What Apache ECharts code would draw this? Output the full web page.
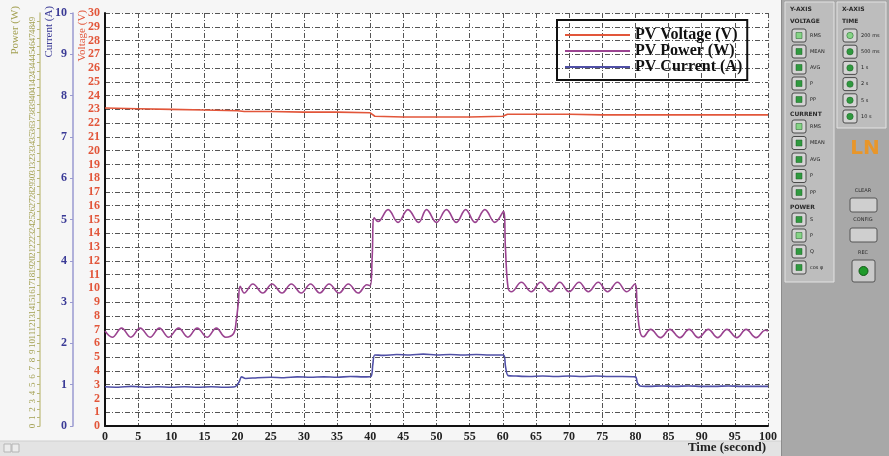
<!DOCTYPE html>
<html>
<head>
<meta charset="utf-8">
<script src="https://cdn.jsdelivr.net/npm/echarts@6/dist/echarts.min.js"></script>
<style>
  html, body { margin: 0; padding: 0; background: #f4f4f4; }
  #chart { width: 889px; height: 456px; }
</style>
</head>
<body>
<div id="chart"></div>
<script>
// PV test record: voltage, power and current against time
const seriesNames = ['PV Voltage (V)', 'PV Power (W)', 'PV Current (A)'];

// [time s, volts]
const voltage = [[0,23.1],[5,23.05],[10,23.0],[15,22.95],[20,22.9],[21,22.85],[25,22.85],[30,22.8],[35,22.8],[40,22.75],[40.7,22.5],[45,22.45],[50,22.45],[55,22.45],[60,22.5],[60.7,22.65],[65,22.65],[70,22.65],[75,22.6],[80,22.6],[85,22.6],[90,22.6],[95,22.6],[100,22.6]];

// [time s, watts]
const power = [
  [0,11.5],[1.1,10.75],[2.5,11.85],[3.9,10.75],[5.3,11.85],[6.8,10.75],[8.2,11.85],[9.6,10.75],[11.1,11.85],[12.5,10.75],[13.9,11.85],[15.4,10.75],[16.8,11.85],[18.2,10.75],[19.4,11.2],[19.8,12.8],[20.1,14.8],[20.4,16.9],
  [21.0,16.1],[22.3,17.2],[23.8,16.1],[25.2,17.2],[26.7,16.1],[28.1,17.2],[29.6,16.1],[31.0,17.2],[32.4,16.1],[33.8,17.2],[35.3,16.1],[36.7,17.2],[38.2,16.1],[39.5,17.1],[40.0,17.0],[40.3,20.5],[40.6,25.2],
  [41.2,24.75],[42.7,26.2],[44.2,24.65],[45.7,26.2],[47.3,24.65],[48.5,26.2],[50.0,24.65],[51.5,26.2],[53.0,24.65],[54.4,26.2],[55.8,24.65],[57.3,26.2],[58.8,24.65],[60.1,26.0],[60.4,21.5],[60.8,16.7],
  [61.3,16.25],[62.8,17.4],[64.3,16.25],[65.7,17.4],[67.2,16.25],[68.6,17.4],[70.0,16.25],[71.5,17.4],[72.9,16.25],[74.4,17.4],[75.8,16.25],[77.3,17.4],[78.7,16.25],[79.9,17.2],[80.3,14.0],[80.7,11.4],
  [81.2,10.8],[82.3,11.7],[83.8,10.7],[85.2,11.7],[86.7,10.7],[88.1,11.7],[89.5,10.7],[91.0,11.7],[92.4,10.7],[93.8,11.7],[95.3,10.7],[96.7,11.7],[98.2,10.7],[99.6,11.6],[100,11.5]
];

// [time s, amperes]
const current = [
  [0,0.95],[2,0.94],[4,0.96],[6,0.94],[8,0.95],[10,0.94],[12,0.95],[14,0.94],[16,0.95],[18,0.94],[19.6,0.95],[20.2,1.06],[20.6,1.19],[21.2,1.15],[23,1.17],[25,1.18],[27,1.17],[29,1.19],[31,1.18],[33,1.19],[35,1.18],[37,1.2],[39,1.19],[40.1,1.2],
  [40.4,1.5],[40.7,1.72],[42,1.71],[44,1.73],[46,1.72],[48,1.74],[50,1.72],[52,1.73],[54,1.72],[56,1.73],[58,1.72],[60.1,1.72],
  [60.4,1.45],[60.8,1.22],[62,1.21],[64,1.2],[66,1.21],[68,1.2],[70,1.21],[72,1.2],[74,1.21],[76,1.2],[78,1.2],[80,1.19],
  [80.3,1.05],[80.7,0.97],[82,0.96],[84,0.97],[86,0.96],[88,0.97],[90,0.96],[92,0.96],[94,0.97],[96,0.96],[98,0.96],[100,0.96]
];

// control panel captions
const voltageButtons = ['RMS', 'MEAN', 'AVG', 'P', 'PP'];
const currentButtons = ['RMS', 'MEAN', 'AVG', 'P', 'PP'];
const powerButtons = ['S', 'P', 'Q', 'cos φ'];
const timeButtons = ['200 ms', '500 ms', '1 s', '2 s', '5 s', '10 s'];

const COL_V = '#e2563a', COL_P = '#9a4390', COL_I = '#4f4fa6';
const COL_PAX = '#a3a052', COL_IAX = '#3a3a96';
const SERIF = '"Liberation Serif", "DejaVu Serif", serif';
const dashDot = [5, 2, 1, 2];

function button(x, y, label, lit, round) {
  const els = [
    { type: 'rect', shape: { x: x, y: y, width: 14, height: 13, r: 2 },
      style: { fill: '#d4d4d4', stroke: '#4a4a4a', lineWidth: 1 } }
  ];
  if (round) {
    els.push({ type: 'circle', shape: { cx: x + 7, cy: y + 6.5, r: 3.2 },
      style: { fill: lit ? '#86d486' : '#2f9a3f', stroke: '#1d5f25', lineWidth: 0.5 } });
  } else {
    els.push({ type: 'rect', shape: { x: x + 4, y: y + 3.5, width: 6, height: 6 },
      style: { fill: lit ? '#86d486' : '#2f9a3f', stroke: '#1d5f25', lineWidth: 0.5 } });
  }
  els.push({ type: 'text', x: x + 18, y: y + 6.5,
    style: { text: label, fill: '#222', font: '5px "DejaVu Sans", sans-serif', textVerticalAlign: 'middle' } });
  return els;
}

const g = [];
// lower strip of the graph window
g.push({ type: 'rect', shape: { x: 0, y: 441, width: 781, height: 15 }, style: { fill: '#e3e3e3' } });
g.push({ type: 'line', shape: { x1: 0, y1: 441, x2: 781, y2: 441 }, style: { stroke: '#cfcfcf', lineWidth: 1 } });
g.push({ type: 'rect', shape: { x: 4, y: 444, width: 7, height: 8 }, style: { fill: '#ececec', stroke: '#b5b5b5' } });
g.push({ type: 'rect', shape: { x: 12, y: 444, width: 7, height: 8 }, style: { fill: '#ececec', stroke: '#b5b5b5' } });
// right control panel
g.push({ type: 'rect', shape: { x: 781, y: 0, width: 108, height: 456 }, style: { fill: '#a8a8a8' } });
g.push({ type: 'line', shape: { x1: 781.5, y1: 0, x2: 781.5, y2: 456 }, style: { stroke: '#8c8c8c', lineWidth: 1 } });
g.push({ type: 'rect', shape: { x: 785, y: 2, width: 49, height: 280 }, style: { fill: '#bdbdbd', stroke: '#e2e2e2', lineWidth: 1 } });
g.push({ type: 'rect', shape: { x: 837, y: 2, width: 49, height: 126 }, style: { fill: '#bdbdbd', stroke: '#e2e2e2', lineWidth: 1 } });

const head = (x, y, t) => ({ type: 'text', x: x, y: y,
  style: { text: t, fill: '#2a2a2a', font: 'bold 6px "DejaVu Sans", sans-serif', textVerticalAlign: 'middle' } });
g.push(head(790, 9, 'Y-AXIS'));
g.push(head(790, 21, 'VOLTAGE'));
voltageButtons.forEach((t, i) => g.push(...button(792, 29 + i * 16, t, i === 0, false)));
g.push(head(790, 114, 'CURRENT'));
currentButtons.forEach((t, i) => g.push(...button(792, 120 + i * 16.5, t, i === 0, false)));
g.push(head(790, 207, 'POWER'));
powerButtons.forEach((t, i) => g.push(...button(792, 213 + i * 16, t, i === 1, false)));
g.push(head(842, 9, 'X-AXIS'));
g.push(head(842, 21, 'TIME'));
timeButtons.forEach((t, i) => g.push(...button(843, 29 + i * 16.2, t, i === 0, true)));

g.push({ type: 'text', x: 865, y: 149,
  style: { text: 'LN', fill: '#e8962a', font: 'bold 20px "DejaVu Sans", sans-serif', textAlign: 'center', textVerticalAlign: 'middle' } });
const small = (x, y, t) => ({ type: 'text', x: x, y: y,
  style: { text: t, fill: '#2a2a2a', font: '5px "DejaVu Sans", sans-serif', textAlign: 'center', textVerticalAlign: 'middle' } });
g.push(small(863, 191, 'CLEAR'));
g.push({ type: 'rect', shape: { x: 850, y: 198, width: 27, height: 14, r: 2 }, style: { fill: '#cfcfcf', stroke: '#555', lineWidth: 1 } });
g.push(small(863, 220, 'CONFIG'));
g.push({ type: 'rect', shape: { x: 850, y: 228, width: 27, height: 14, r: 2 }, style: { fill: '#cfcfcf', stroke: '#555', lineWidth: 1 } });
g.push(small(863, 253, 'REC'));
g.push({ type: 'rect', shape: { x: 852, y: 260, width: 23, height: 22, r: 2 }, style: { fill: '#c9c9c9', stroke: '#555', lineWidth: 1 } });
g.push({ type: 'circle', shape: { cx: 863.5, cy: 271, r: 4.5 }, style: { fill: '#1f9a2a', stroke: '#135a18', lineWidth: 1 } });

// rotated axis titles
const axisTitle = (x, y, t, c, size) => ({ type: 'text', x: x, y: y, rotation: Math.PI / 2,
  style: { text: t, fill: c, font: size + 'px ' + SERIF, textAlign: 'right', textVerticalAlign: 'middle' } });
g.push(axisTitle(15, 6, 'Power (W)', COL_PAX, 11));
g.push(axisTitle(49, 6, 'Current (A)', COL_IAX, 11));
g.push(axisTitle(82, 10, 'Voltage (V)', COL_V, 11));

// time axis title, right-aligned under the last tick
g.push({ type: 'text', x: 766, y: 448,
  style: { text: 'Time (second)', fill: '#222', font: 'bold 13px ' + SERIF, textAlign: 'right', textVerticalAlign: 'middle' } });

const option = {
  backgroundColor: '#f6f6f6',
  animation: false,
  grid: { left: 105, right: 121, top: 13, bottom: 30, show: true, backgroundColor: '#ffffff', borderWidth: 0 },
  legend: {
    data: seriesNames,
    orient: 'vertical', left: 557, top: 20,
    icon: 'rect', itemWidth: 65, itemHeight: 2, itemGap: 0,
    padding: [7, 5, 5, 8],
    borderColor: '#111', borderWidth: 2,
    textStyle: { fontFamily: SERIF, fontWeight: 'bold', fontSize: 16, color: '#111', lineHeight: 16 }
  },
  xAxis: {
    type: 'value', min: 0, max: 100, interval: 5,
    axisLine: { lineStyle: { color: '#111', width: 2 } },
    axisTick: { show: false },
    axisLabel: { fontFamily: SERIF, fontWeight: 'bold', fontSize: 12, color: '#222', margin: 5 },
    splitLine: { show: true, lineStyle: { color: '#555', width: 1, type: dashDot } }
  },
  yAxis: [
    {
      type: 'value', min: 0, max: 30, interval: 1, position: 'left', offset: 0,
      axisLine: { show: true, lineStyle: { color: '#111', width: 2 } },
      axisTick: { show: false },
      axisLabel: { fontFamily: SERIF, fontWeight: 'bold', fontSize: 12, color: COL_V, margin: 5 },
      splitLine: { show: true, lineStyle: { color: '#555', width: 1, type: dashDot } }
    },
    {
      type: 'value', min: 0, max: 10, interval: 1, position: 'left', offset: 32,
      axisLine: { show: true, lineStyle: { color: '#9a9ad0', width: 1.5 } },
      axisTick: { show: true, length: 3, lineStyle: { color: '#9a9ad0' } },
      axisLabel: { fontFamily: SERIF, fontWeight: 'bold', fontSize: 12, color: COL_IAX, margin: 6 },
      splitLine: { show: false }
    },
    {
      type: 'value', min: 0, max: 50, interval: 1, position: 'left', offset: 65,
      axisLine: { show: true, lineStyle: { color: '#c8c690', width: 1.5 } },
      axisTick: { show: true, length: 3, lineStyle: { color: '#b9b77a' } },
      axisLabel: { fontFamily: SERIF, fontSize: 9, color: COL_PAX, margin: 3, rotate: 90 },
      splitLine: { show: false }
    }
  ],
  series: [
    { name: seriesNames[0], type: 'line', yAxisIndex: 0, data: voltage, showSymbol: false,
      lineStyle: { color: COL_V, width: 1.6 }, itemStyle: { color: COL_V } },
    { name: seriesNames[1], type: 'line', yAxisIndex: 2, data: power, showSymbol: false, smooth: 0.4,
      lineStyle: { color: COL_P, width: 1.6 }, itemStyle: { color: COL_P } },
    { name: seriesNames[2], type: 'line', yAxisIndex: 1, data: current, showSymbol: false, smooth: 0.3,
      lineStyle: { color: COL_I, width: 1.6 }, itemStyle: { color: COL_I } }
  ],
  graphic: g
};

echarts.init(document.getElementById('chart'), null, { renderer: 'canvas' }).setOption(option);
</script>
</body>
</html>
